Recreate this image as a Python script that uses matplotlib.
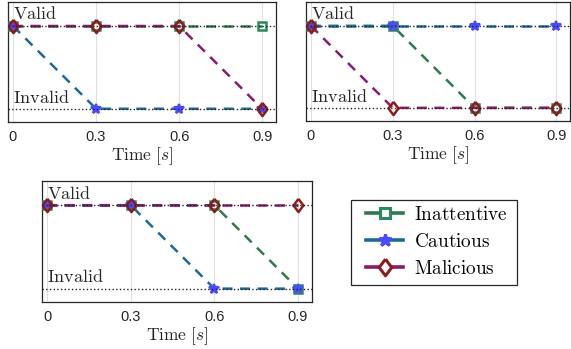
import matplotlib
matplotlib.use("Agg")
import matplotlib.pyplot as plt
from matplotlib.lines import Line2D
from matplotlib.patches import Rectangle

plt.rcParams['mathtext.fontset'] = 'cm'
plt.rcParams['font.family'] = ['Liberation Sans', 'DejaVu Sans']

times = [0, 0.3, 0.6, 0.9]
xticklabels = ['0', '0.3', '0.6', '0.9']
# 1 = Valid, 0 = Invalid
panel1 = {'Inattentive': [1, 1, 1, 1], 'Cautious': [1, 0, 0, 0], 'Malicious': [1, 1, 1, 0]}
panel2 = {'Inattentive': [1, 1, 0, 0], 'Cautious': [1, 1, 1, 1], 'Malicious': [1, 0, 0, 0]}
panel3 = {'Inattentive': [1, 1, 1, 0], 'Cautious': [1, 1, 0, 0], 'Malicious': [1, 1, 1, 1]}
series_names = ['Inattentive', 'Cautious', 'Malicious']

diamond = [(0, 1), (0.75, 0), (0, -1), (-0.75, 0), (0, 1)]

styles = {
    'Inattentive': dict(color='#2f7a4a', marker='s', mec='#2a8a5c', ms=6, mew=1.8),
    'Cautious': dict(color='#1c6a96', marker='*', mec='#4a4aff', ms=7, mew=1.6),
    'Malicious': dict(color='#8a1a6e', marker=diamond, mec='#8b1c1c', ms=9.5, mew=1.8),
}

W, H = 571, 349
fig = plt.figure(figsize=(W / 100, H / 100), dpi=100)

def box(l, r, t, b):
    return [l / W, 1 - b / H, (r - l) / W, (b - t) / H]

positions = [box(8, 276, 2, 122), box(306, 570, 2, 121), box(42, 312, 181, 302)]
panels = [panel1, panel2, panel3]

for pos, data in zip(positions, panels):
    ax = fig.add_axes(pos)
    ax.set_xlim(-0.018, 0.95)
    ax.set_ylim(-0.16, 1.29)
    ax.set_xticks(times)
    ax.set_xticklabels(xticklabels, fontsize=10.5, color='#262626')
    ax.set_yticks([])
    ax.grid(axis='x', color='#e0e0e0', lw=0.8)
    ax.set_axisbelow(True)
    ax.tick_params(axis='x', length=0, pad=6)
    for s in ax.spines.values():
        s.set_color('#262626')
        s.set_linewidth(0.9)
    for name in series_names:
        st = styles[name]
        mfc = st['mec'] if name == 'Cautious' else 'none'
        ax.plot(times, data[name], ls=(0, (4, 3)), lw=1.8, color=st['color'],
                marker=st['marker'], mec=st['mec'], mfc=mfc, ms=st['ms'],
                mew=st['mew'], zorder=3)
    ax.axhline(1, color='#222222', ls=':', lw=1.0, zorder=4)
    ax.axhline(0, color='#222222', ls=':', lw=1.0, zorder=4)
    ax.text(0.0, 1.08, r'$\mathrm{Valid}$', fontsize=13, color='#262626', va='baseline', ha='left')
    ax.text(0.0, 0.075, r'$\mathrm{Invalid}$', fontsize=13, color='#262626', va='baseline', ha='left')
    ax.set_xlabel(r'$\mathrm{Time}\ [s]$', fontsize=12.5, color='#262626', labelpad=1)

handles = []
leg_ms = {'Inattentive': 7.5, 'Cautious': 9, 'Malicious': 12}
for name in series_names:
    st = styles[name]
    mfc = st['mec'] if name == 'Cautious' else 'white'
    handles.append(Line2D([], [], color=st['color'], lw=2.6, marker=st['marker'],
                          mec=st['mec'], mfc=mfc, ms=leg_ms[name], mew=2.2))
labels = [r'$\mathrm{%s}$' % n for n in series_names]
leg = fig.legend(handles, labels, loc='upper left',
                 bbox_to_anchor=(366 / W, 1 - 206 / H), fontsize=13.8,
                 frameon=False, handlelength=1.95, handletextpad=0.55,
                 borderpad=0.0, labelspacing=0.46, borderaxespad=0)
fig.add_artist(Rectangle((351 / W, 1 - 285 / H), (517 - 351) / W, (285 - 200) / H,
                         transform=fig.transFigure, fill=False, edgecolor='#262626', lw=0.9))

fig.savefig('out.png', dpi=100)
